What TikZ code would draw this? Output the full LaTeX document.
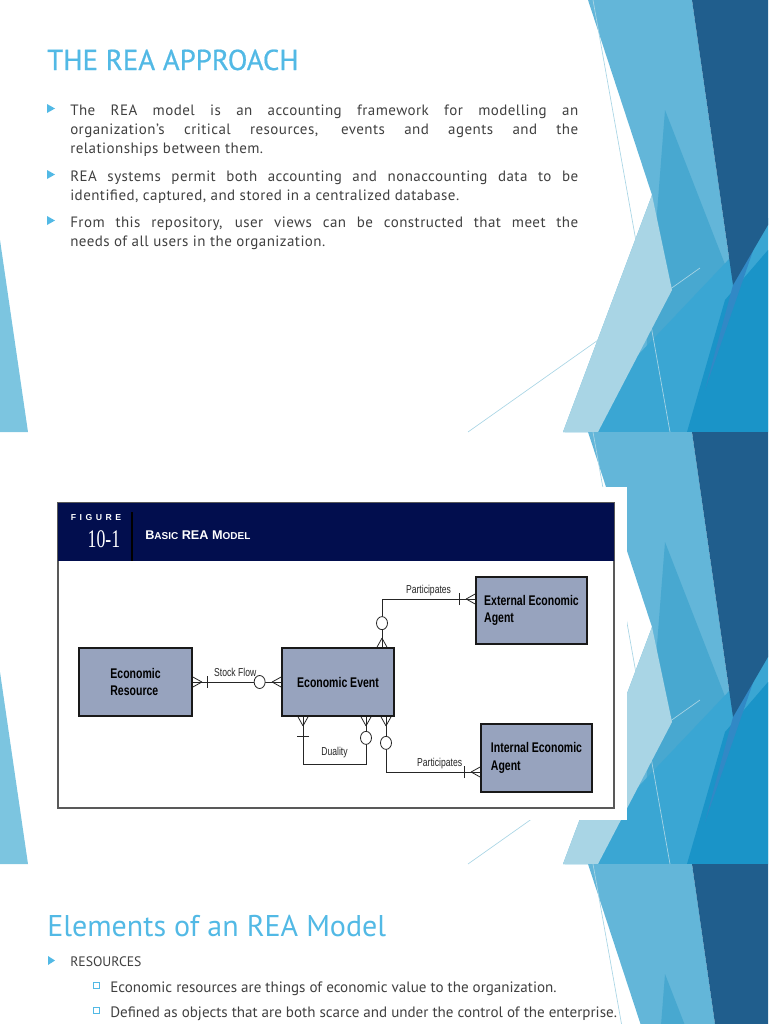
\documentclass[tikz,border=0pt]{standalone}
\usepackage{fontspec}
\setmainfont{PT Sans}
\newfontfamily\bodyfont[LetterSpace=3]{PT Sans}
\newfontfamily\titlefont[FakeBold=0.7]{PT Sans}
\newfontfamily\narrowfont[FakeStretch=0.75]{Liberation Sans}
\newfontfamily\headfont{Liberation Sans}
\newfontfamily\figserif[FakeStretch=0.7]{Liberation Serif}
\definecolor{titleblue}{HTML}{52B9E5}
\definecolor{bodygray}{HTML}{404040}
\definecolor{facetlight}{HTML}{63B6D9}
\definecolor{facetmid}{HTML}{48A8D0}
\definecolor{facetdark}{HTML}{205E8D}
\definecolor{facetstrip}{HTML}{3189C6}
\definecolor{facetbright}{HTML}{3AA6D3}
\definecolor{facetdeep}{HTML}{1A94C8}
\definecolor{facetpale}{HTML}{A9D5E5}
\definecolor{facetleft}{HTML}{7CC5E0}
\definecolor{figurenavy}{HTML}{020E4E}
\definecolor{entityfill}{HTML}{97A3BE}
\begin{document}
\begin{tikzpicture}[x=0.75pt,y=-0.75pt,
  entity/.style={draw=black!90,line width=1.3pt,fill=entityfill,inner sep=0pt,
    font=\narrowfont\bfseries\fontsize{10.5}{13}\selectfont,align=left},
  rel/.style={font=\narrowfont\fontsize{8.6}{9}\selectfont,inner sep=1pt},
  link/.style={line width=0.6pt,black!85},
  body/.style={anchor=base west,text width=381pt,align=justify,text=bodygray,
    inner sep=0pt,font=\bodyfont\fontsize{11.25}{14.25}\selectfont},
  slidetitle/.style={anchor=base west,inner sep=0pt,text=titleblue}]
  \useasboundingbox (0,0) rectangle (768,1024);
  \clip (0,0) rectangle (768,1024);

  % facets of the three slides
  \foreach \o in {0,432,864}{
  \begin{scope}[shift={(0,\o)}]
    \fill[facetlight] (588,0) -- (692,0) -- (733,285) -- (705,432) -- (563,432) -- (652,195) -- cycle;
    \fill[facetmid] (665,110) -- (733,285) -- (705,432) -- (640,432) -- cycle;
    \fill[facetbright] (565,432) -- (768,218) -- (768,432) -- cycle;
    \fill[facetdeep] (687,432) -- (725,300) -- (768,250) -- (768,432) -- cycle;
    \fill[facetstrip] (733,285) -- (755,245) -- (705,390) -- cycle;
    \fill[facetdark] (692,0) -- (768,0) -- (768,225) -- (733,285) -- cycle;
    \fill[facetpale] (652,195) -- (672,290) -- (598,432) -- (563,432) -- cycle;
    \draw[facetpale,line width=0.5pt] (593,0) -- (670,432);
    \draw[facetpale,line width=0.5pt] (468,432) -- (700,268);
    \fill[facetleft] (0,240) -- (28,432) -- (0,432) -- cycle;
  \end{scope}}

  % slide 1
  \node[slidetitle,font=\titlefont\fontsize{21.6}{24}\selectfont] (title1) at (47,70) {THE REA APPROACH};
  \node[body] (p1) at (70,115) {The REA model is an accounting framework for modelling an\linebreak
    organization’s critical resources, events and agents and the\linebreak
    relationships between them.};
  \node[body] (p2) at (70,181) {REA systems permit both accounting and nonaccounting data to be\linebreak
    identified, captured, and stored in a centralized database.};
  \node[body] (p3) at (70,227) {From this repository, user views can be constructed that meet the\linebreak
    needs of all users in the organization.};
  \foreach \y in {115,181,227}
  \fill[titleblue,shift={(0,\y)}] (47,-11) -- (55,-6.5) -- (47,-2) -- cycle;

  % slide 2: the figure
  \fill[white] (48,487) rectangle (627,820);
  \draw[black!65,line width=0.8pt] (58,503) rectangle (614,808);
  \fill[figurenavy] (58,503) rectangle (614,561);
  \draw[black,line width=2pt] (132,512) -- (132,561);
  \node[white,font=\headfont\bfseries\fontsize{6.5}{7}\selectfont] (figword) at (96,518)
    {F\hspace{2.6pt}I\hspace{2.6pt}G\hspace{2.6pt}U\hspace{2.6pt}R\hspace{2.6pt}E};
  \node[white,font=\figserif\fontsize{19}{19}\selectfont] (fignum) at (104,539) {10-1};
  \node[white,anchor=west,inner sep=0pt,font=\headfont\bfseries\fontsize{9.5}{9.5}\selectfont] (figname) at (145,535)
    {B{\fontsize{7.5}{7.5}\selectfont ASIC} REA M{\fontsize{7.5}{7.5}\selectfont ODEL}};

  \node[entity,minimum width=84.75pt,minimum height=51pt] (res) at (135.5,682) {Economic\\Resource};
  \node[entity,minimum width=84pt,minimum height=51pt] (ev) at (338,682) {Economic Event};
  \node[entity,minimum width=83.25pt,minimum height=50.25pt] (ext) at (531.5,610.5) {External Economic\\Agent};
  \node[entity,minimum width=83.25pt,minimum height=51pt] (int) at (536.5,758) {Internal Economic\\Agent};

  \coordinate (extbend) at (382,599);
  \coordinate (intbend) at (386,772);
  \coordinate (dualL) at (303,764);
  \coordinate (dualR) at (366,764);

  \draw[link] (res.east) -- node[rel,above=3pt,pos=0.48] {Stock Flow} (ev.west);
  \draw[link] (extbend |- ev.north) -- (extbend) -- node[rel,above=1pt] {Participates} (extbend -| ext.west);
  \draw[link] (intbend |- ev.south) -- (intbend) -- node[rel,above=1pt,pos=0.57] {Participates} (intbend -| int.west);
  \draw[link] (dualL |- ev.south) -- (dualL) -- node[rel,above=3pt] {Duality} (dualR) -- (dualR |- ev.south);

  % crow's feet
  \foreach \p/\r in {res.east/0, ev.west/180, extbend |- ev.north/90, extbend -| ext.west/180,
    intbend |- ev.south/-90, intbend -| int.west/180, dualL |- ev.south/-90, dualR |- ev.south/-90}
  \draw[link,shift={(\p)},rotate=\r] (9,0) -- (0,-5) (9,0) -- (0,5);
  % bars
  \foreach \p/\r/\d in {res.east/0/15, extbend -| ext.west/180/16, intbend -| int.west/180/16, dualL |- ev.south/-90/20}
  \draw[link,shift={(\p)},rotate=\r] (\d,-6) -- (\d,6);
  % circles
  \foreach \p/\dx/\dy in {ev.west/-21.5/0, extbend |- ev.north/0/-24, intbend |- ev.south/0/26, dualR |- ev.south/0/21}
  \draw[link,fill=white,shift={(\p)}] (\dx,\dy) ellipse (5.5 and 6.5);

  % slide 3
  \node[slidetitle,font=\fontsize{22.5}{24}\selectfont] (title3) at (47,936) {Elements of an REA Model};
  \fill[titleblue] (48,956) -- (55,960.5) -- (48,965) -- cycle;
  \node[anchor=base west,inner sep=0pt,text=bodygray,font=\fontsize{10.3}{11}\selectfont] (resources) at (70,966) {RESOURCES};
  \foreach \y in {992,1017}
  \draw[titleblue,line width=0.6pt,fill=white,shift={(0,\y)}] (93.5,-10) rectangle (99.5,-4);
  \node[anchor=base west,inner sep=0pt,text=bodygray,font=\fontsize{11.3}{12}\selectfont] (sub1) at (110,992)
    {Economic resources are things of economic value to the organization.};
  \node[anchor=base west,inner sep=0pt,text=bodygray,font=\fontsize{11.3}{12}\selectfont] (sub2) at (110,1017)
    {Defined as objects that are both scarce and under the control of the enterprise.};
\end{tikzpicture}
\end{document}
